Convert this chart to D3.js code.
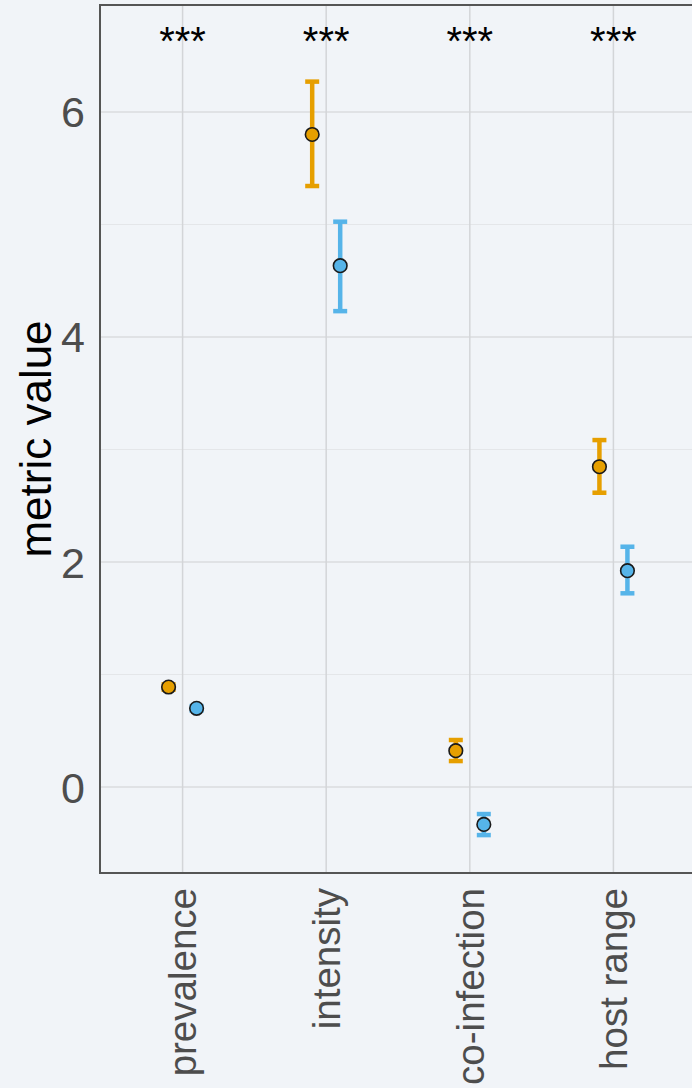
<!DOCTYPE html>
<html>
<head>
<meta charset="utf-8">
<script src="https://cdn.jsdelivr.net/npm/d3@7"></script>
<style>
  html, body { margin: 0; padding: 0; background: #f1f4f8; }
  svg { display: block; font-family: "Liberation Sans", Arial, sans-serif; }
</style>
</head>
<body>
<svg id="chart" width="692" height="1088"></svg>
<script>
// Metrics compared between two groups (mean with 95% CI)
const categories = ["prevalence", "intensity", "co-infection", "host range"];
const groups = ["groupA", "groupB"];
const groupAMean  = [0.889, 5.80, 0.323, 2.847];
const groupALower = [0.865, 5.342, 0.231, 2.616];
const groupAUpper = [0.913, 6.27, 0.418, 3.084];
const groupBMean  = [0.700, 4.634, -0.332, 1.923];
const groupBLower = [0.680, 4.23, -0.427, 1.722];
const groupBUpper = [0.720, 5.025, -0.240, 2.136];
const significance = ["***", "***", "***", "***"];
const yTicks = [0, 2, 4, 6];
const yMinorTicks = [1, 3, 5];
const starLevel = 6.71;

const groupColors = { groupA: "#e69f00", groupB: "#56b4e9" };

const rows = [];
categories.forEach((c, i) => {
  rows.push({ cat: c, group: "groupA", mean: groupAMean[i], lo: groupALower[i], hi: groupAUpper[i] });
  rows.push({ cat: c, group: "groupB", mean: groupBMean[i], lo: groupBLower[i], hi: groupBUpper[i] });
});

const svg = d3.select("#chart");
const panel = { left: 100, top: 5, bottom: 873, right: 696 };

const x = d3.scalePoint().domain(categories).range([panel.left, panel.right]).padding(0.575);
const dodge = d3.scalePoint().domain(groups).range([-14, 14]);
const y = d3.scaleLinear().domain([-0.764, 6.951]).range([panel.bottom, panel.top]);

// panel background
svg.append("rect")
  .attr("x", panel.left).attr("y", panel.top)
  .attr("width", panel.right - panel.left).attr("height", panel.bottom - panel.top)
  .attr("fill", "#f1f4f8");

// grid lines
const grid = svg.append("g");
grid.selectAll("line.minor").data(yMinorTicks).join("line")
  .attr("class", "minor")
  .attr("x1", panel.left).attr("x2", panel.right)
  .attr("y1", d => y(d)).attr("y2", d => y(d))
  .attr("stroke", "#e4e6e9").attr("stroke-width", 1);
grid.selectAll("line.major").data(yTicks).join("line")
  .attr("class", "major")
  .attr("x1", panel.left).attr("x2", panel.right)
  .attr("y1", d => y(d)).attr("y2", d => y(d))
  .attr("stroke", "#e0e2e5").attr("stroke-width", 2);
grid.selectAll("line.vert").data(categories).join("line")
  .attr("class", "vert")
  .attr("x1", d => x(d)).attr("x2", d => x(d))
  .attr("y1", panel.top).attr("y2", panel.bottom)
  .attr("stroke", "#d3d5d8").attr("stroke-width", 1.5);

// error bars
const bars = svg.append("g").selectAll("g").data(rows).join("g")
  .attr("transform", d => `translate(${x(d.cat) + dodge(d.group)},0)`);
bars.append("line")
  .attr("x1", 0).attr("x2", 0)
  .attr("y1", d => y(d.lo)).attr("y2", d => y(d.hi))
  .attr("stroke", d => groupColors[d.group]).attr("stroke-width", 4.5);
bars.selectAll("line.cap").data(d => [d, d].map((r, k) => ({ v: k ? r.hi : r.lo, g: r.group }))).join("line")
  .attr("class", "cap")
  .attr("x1", -7).attr("x2", 7)
  .attr("y1", d => y(d.v)).attr("y2", d => y(d.v))
  .attr("stroke", d => groupColors[d.g]).attr("stroke-width", 4.5);

// points
bars.append("circle")
  .attr("cx", 0).attr("cy", d => y(d.mean)).attr("r", 6.8)
  .attr("fill", d => groupColors[d.group])
  .attr("stroke", "#1a1a1a").attr("stroke-width", 1.6);

// significance stars
svg.append("g").selectAll("text").data(categories).join("text")
  .attr("x", d => x(d)).attr("y", y(starLevel))
  .attr("dy", "0.57em")
  .attr("text-anchor", "middle")
  .attr("font-size", 40).attr("fill", "#000")
  .text((d, i) => significance[i]);

// panel border
svg.append("path")
  .attr("d", `M${panel.right + 10},${panel.top}H${panel.left}V${panel.bottom}H${panel.right + 10}`)
  .attr("fill", "none").attr("stroke", "#555").attr("stroke-width", 2);

// y axis labels
svg.append("g").selectAll("text").data(yTicks).join("text")
  .attr("x", 85).attr("y", d => y(d)).attr("dy", "0.36em")
  .attr("text-anchor", "end")
  .attr("font-size", 43).attr("fill", "#4d4d4d")
  .text(d => d);

// x axis labels
svg.append("g").selectAll("text").data(categories).join("text")
  .attr("transform", d => `translate(${x(d)},${panel.bottom + 15}) rotate(-90)`)
  .attr("dy", "0.36em")
  .attr("text-anchor", "end")
  .attr("font-size", 38.5).attr("fill", "#4d4d4d")
  .text(d => d);

// y axis title
svg.append("text")
  .attr("transform", `translate(35,${(panel.top + panel.bottom) / 2}) rotate(-90)`)
  .attr("dy", "0.36em")
  .attr("text-anchor", "middle")
  .attr("font-size", 44).attr("fill", "#000")
  .text("metric value");
</script>
</body>
</html>
